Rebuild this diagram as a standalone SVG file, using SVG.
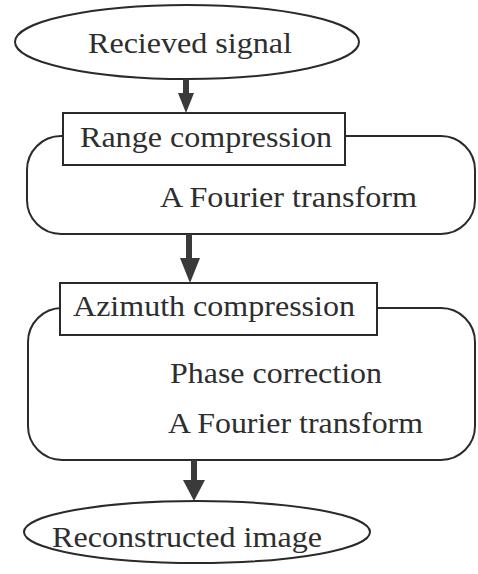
<svg xmlns="http://www.w3.org/2000/svg" width="478" height="574" viewBox="0 0 478 574">
<defs>
<style>
.ln{fill:none;stroke:#2a2a2a;stroke-width:2}
.bx{fill:#fff;stroke:#2a2a2a;stroke-width:2}
.t{font-family:"Liberation Serif","Times New Roman",serif;font-size:30px;fill:#2e2e2e}
.sh{stroke:#3a3a3a;stroke-width:6}
.hd{fill:#3a3a3a}
</style>
</defs>
<rect width="478" height="574" fill="#fff"/>
<g id="received">
<ellipse class="ln" cx="187" cy="42" rx="172" ry="37"/>
<text class="t" x="88" y="53" textLength="204" lengthAdjust="spacingAndGlyphs">Recieved signal</text>
</g>
<g id="range">
<rect class="ln" x="27" y="136" width="448" height="98" rx="34"/>
<rect class="bx" x="63" y="113" width="282" height="52"/>
<text class="t" x="80" y="147" textLength="252" lengthAdjust="spacingAndGlyphs">Range compression</text>
<text class="t" x="160" y="207" textLength="257" lengthAdjust="spacingAndGlyphs">A Fourier transform</text>
</g>
<g id="azimuth">
<rect class="ln" x="28" y="308" width="447" height="152" rx="34"/>
<rect class="bx" x="60" y="283" width="317" height="52"/>
<text class="t" x="73" y="316" textLength="282" lengthAdjust="spacingAndGlyphs">Azimuth compression</text>
<text class="t" x="170" y="383" textLength="212" lengthAdjust="spacingAndGlyphs">Phase correction</text>
<text class="t" x="168" y="433" textLength="255" lengthAdjust="spacingAndGlyphs">A Fourier transform</text>
</g>
<g id="reconstructed">
<ellipse class="ln" cx="197" cy="532" rx="173" ry="31"/>
<text class="t" x="52" y="547" textLength="270" lengthAdjust="spacingAndGlyphs">Reconstructed image</text>
</g>
<g id="connectors">
<line class="sh" x1="186" y1="79" x2="186" y2="95"/>
<polygon class="hd" points="178,93 194,93 186,113"/>
<line class="sh" x1="189" y1="234" x2="189" y2="260"/>
<polygon class="hd" points="180,258 200,258 190,283"/>
<line class="sh" x1="194" y1="460" x2="194" y2="482"/>
<polygon class="hd" points="183,480 205,480 194,501"/>
</g>
</svg>
